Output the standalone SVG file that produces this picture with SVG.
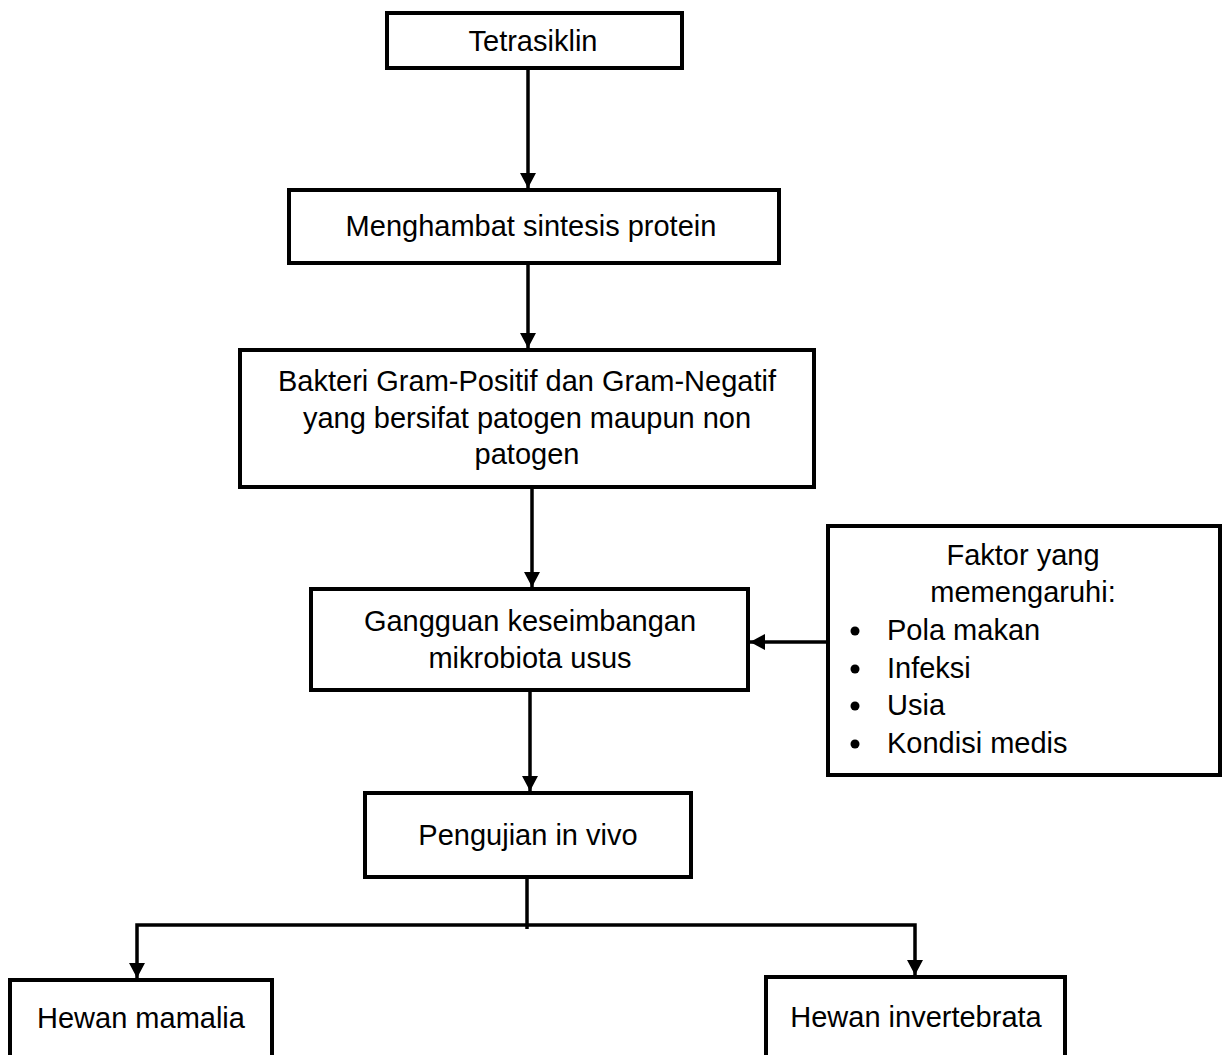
<svg xmlns="http://www.w3.org/2000/svg" width="1222" height="1055" viewBox="0 0 1222 1055">
<defs>
<style>
.box{fill:#fff;stroke:#000;stroke-width:4}
.t{font-family:"Liberation Sans",Arial,sans-serif;font-size:29px;fill:#000}
.c{text-anchor:middle}
.ln{fill:none;stroke:#000;stroke-width:3.5}
</style>
<marker id="ah" markerUnits="userSpaceOnUse" markerWidth="16" markerHeight="16" refX="15" refY="8" orient="auto">
<path d="M0,0 L15,8 L0,16 Z" fill="#000"/>
</marker>
</defs>
<rect width="1222" height="1055" fill="#fff"/>
<g id="connectors">
<line class="ln" x1="528" y1="68" x2="528" y2="188" marker-end="url(#ah)"/>
<line class="ln" x1="528" y1="263" x2="528" y2="348" marker-end="url(#ah)"/>
<line class="ln" x1="532" y1="487" x2="532" y2="587" marker-end="url(#ah)"/>
<line class="ln" x1="828" y1="642" x2="750" y2="642" marker-end="url(#ah)"/>
<line class="ln" x1="530" y1="690" x2="530" y2="791" marker-end="url(#ah)"/>
<polyline class="ln" points="527,877 527,929"/>
<polyline class="ln" points="527,925 137,925 137,978" marker-end="url(#ah)"/>
<polyline class="ln" points="527,925 915,925 915,975" marker-end="url(#ah)"/>
</g>
<g id="node-tetrasiklin">
<rect class="box" x="387" y="13" width="295" height="55"/>
<text class="t c" x="533" y="51">Tetrasiklin</text>
</g>
<g id="node-menghambat">
<rect class="box" x="289" y="190" width="490" height="73"/>
<text class="t c" x="531" y="236">Menghambat sintesis protein</text>
</g>
<g id="node-bakteri">
<rect class="box" x="240" y="350" width="574" height="137"/>
<text class="t c" x="527" y="391">Bakteri Gram-Positif dan Gram-Negatif</text>
<text class="t c" x="527" y="428">yang bersifat patogen maupun non</text>
<text class="t c" x="527" y="464">patogen</text>
</g>
<g id="node-gangguan">
<rect class="box" x="311" y="589" width="437" height="101"/>
<text class="t c" x="530" y="631">Gangguan keseimbangan</text>
<text class="t c" x="530" y="668">mikrobiota usus</text>
</g>
<g id="node-faktor">
<rect class="box" x="828" y="526" width="392" height="249"/>
<text class="t c" x="1023" y="565">Faktor yang</text>
<text class="t c" x="1023" y="602">memengaruhi:</text>
<circle cx="855" cy="631" r="4.5"/>
<text class="t" x="887" y="640">Pola makan</text>
<circle cx="855" cy="669" r="4.5"/>
<text class="t" x="887" y="678">Infeksi</text>
<circle cx="855" cy="706" r="4.5"/>
<text class="t" x="887" y="715">Usia</text>
<circle cx="855" cy="744" r="4.5"/>
<text class="t" x="887" y="753">Kondisi medis</text>
</g>
<g id="node-pengujian">
<rect class="box" x="365" y="793" width="326" height="84"/>
<text class="t c" x="528" y="845">Pengujian in vivo</text>
</g>
<g id="node-mamalia">
<rect class="box" x="10" y="980" width="262" height="90"/>
<text class="t c" x="141" y="1028">Hewan mamalia</text>
</g>
<g id="node-invertebrata">
<rect class="box" x="766" y="977" width="299" height="93"/>
<text class="t c" x="916" y="1027">Hewan invertebrata</text>
</g>
</svg>
